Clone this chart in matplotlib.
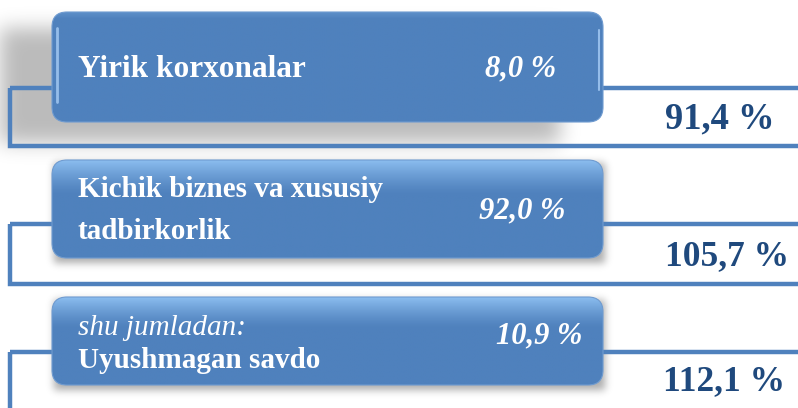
import numpy as np
import matplotlib
matplotlib.use("Agg")
import matplotlib.pyplot as plt
from matplotlib.patches import FancyBboxPatch, Rectangle

# ---- data ----
prefixes = ["", "", "shu jumladan:"]
categories = ["Yirik korxonalar", "Kichik biznes va xususiy\ntadbirkorlik", "Uyushmagan savdo"]
shares = [8.0, 92.0, 10.9]
growth = [91.4, 105.7, 112.1]

# ---- layout (pixels, y downwards) ----
W, H = 798, 408
boxes = [(52, 12, 603, 122), (52, 160, 603, 258), (52, 297, 603, 385)]
frames = [(10, 88, 146), (10, 224, 284), (10, 352, 440)]
label_base = [[77], [197, 239], [335, 368]]
label_size = [22.5, 21, 21]
share_pos = [(556, 76), (565, 218), (582, 343)]
growth_pos = [(665, 128), (665, 265), (663, 390)]
growth_size = [26.3, 25.5, 25.5]

BLUE = np.array([79, 129, 189]) / 255
LIGHT = np.array([150, 200, 248]) / 255
FRAME = "#4f81bd"
DARK = "#1f497d"
SERIF = ["Liberation Serif", "DejaVu Serif"]

fig = plt.figure(figsize=(W / 100, H / 100), dpi=100)
ax = fig.add_axes([0, 0, 1, 1])
ax.set_xlim(0, W)
ax.set_ylim(H, 0)
ax.axis("off")


def blur(a, s):
    r = int(3 * s)
    x = np.arange(-r, r + 1)
    k = np.exp(-x ** 2 / (2 * s * s))
    k /= k.sum()
    a = np.apply_along_axis(lambda v: np.convolve(v, k, mode="same"), 0, a)
    a = np.apply_along_axis(lambda v: np.convolve(v, k, mode="same"), 1, a)
    return a


def shadow(x0, y0, x1, y1, sigma, alpha, z):
    m = np.zeros((H, W))
    m[max(0, int(y0)):max(0, int(y1)), max(0, int(x0)):max(0, int(x1))] = 1
    m = blur(m, sigma)
    img = np.zeros((H, W, 4))
    img[..., 3] = m * alpha
    ax.imshow(img, extent=[0, W, H, 0], zorder=z, interpolation="bilinear", aspect="auto")


# shadows
shadow(-30, 28, 560, 143, 10, 0.27, 1)
for (x0, y0, x1, y1) in boxes[1:]:
    shadow(x0 + 2, y0 + 3, x1 + 2, y1 + 5, 4, 0.33, 1)

# frames
for (fx, ft, fb) in frames:
    ax.add_patch(Rectangle((fx, ft), W + 20 - fx, fb - ft, fill=False,
                           edgecolor=FRAME, linewidth=3.2, zorder=2))

# boxes with gradient
for i, (x0, y0, x1, y1) in enumerate(boxes):
    p = FancyBboxPatch((x0, y0), x1 - x0, y1 - y0,
                       boxstyle="round,pad=0,rounding_size=15",
                       facecolor="none", edgecolor="#6f9bd0", linewidth=0.8, zorder=4)
    ax.add_patch(p)
    n = 200
    t = np.linspace(0, 1, n)[:, None]
    if i == 0:
        w = np.clip(1 - t / 0.06, 0, 1) * 0.2
    else:
        w = np.clip(1 - t / 0.35, 0, 1) ** 1.3 * 0.85
    col = BLUE[None, :] * (1 - w) + LIGHT[None, :] * w
    img = np.repeat(col[:, None, :], 4, axis=1)
    im = ax.imshow(img, extent=[x0, x1, y1, y0], zorder=3, aspect="auto",
                   interpolation="bilinear")
    im.set_clip_path(p)
    if i == 0:
        ax.plot([x0 + 5, x0 + 5], [y0 + 16, y1 - 20], color="#a8cdf6", lw=2,
                alpha=0.8, zorder=4, solid_capstyle="round")
        ax.plot([x1 - 4, x1 - 4], [y0 + 18, y1 - 32], color="#a8cdf6", lw=1.5,
                alpha=0.8, zorder=4, solid_capstyle="round")

# texts
for i in range(3):
    bl = label_base[i]
    lines = categories[i].split("\n")
    fs = label_size[i]
    if prefixes[i]:
        ax.text(78, bl[0], prefixes[i], color="white", fontsize=21, family=SERIF,
                style="italic", va="baseline", ha="left", zorder=5)
        ax.text(78, bl[1], lines[0], color="white", fontsize=fs, family=SERIF,
                weight="bold", va="baseline", ha="left", zorder=5)
    else:
        for j, ln in enumerate(lines):
            ax.text(78, bl[j], ln, color="white", fontsize=fs, family=SERIF,
                    weight="bold", va="baseline", ha="left", zorder=5)
    sx, sy = share_pos[i]
    ax.text(sx, sy, f"{shares[i]:.1f} %".replace(".", ","), color="white",
            fontsize=22, family=SERIF, weight="bold", style="italic",
            va="baseline", ha="right", zorder=5)
    gx, gy = growth_pos[i]
    ax.text(gx, gy, f"{growth[i]:.1f} %".replace(".", ","), color=DARK,
            fontsize=growth_size[i], family=SERIF, weight="bold",
            va="baseline", ha="left", zorder=5)

fig.savefig("out.png", dpi=100)
